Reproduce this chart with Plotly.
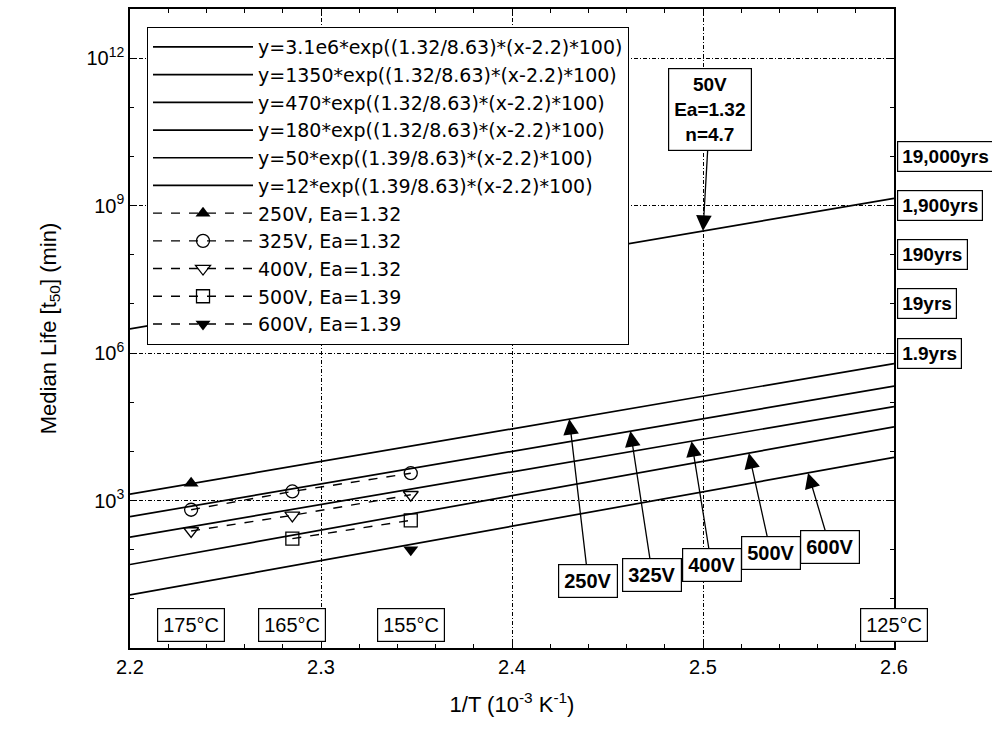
import numpy as np
import plotly.graph_objects as go

# ---- fitted Arrhenius lines (from legend equations) ----
fit_prefactors = [3.1e6, 1350, 470, 180, 50, 12]
fit_ea = [1.32, 1.32, 1.32, 1.32, 1.39, 1.39]
fit_labels = [
    "y=3.1e6*exp((1.32/8.63)*(x-2.2)*100)",
    "y=1350*exp((1.32/8.63)*(x-2.2)*100)",
    "y=470*exp((1.32/8.63)*(x-2.2)*100)",
    "y=180*exp((1.32/8.63)*(x-2.2)*100)",
    "y=50*exp((1.39/8.63)*(x-2.2)*100)",
    "y=12*exp((1.39/8.63)*(x-2.2)*100)",
]
x_ends = [2.2, 2.6]

# ---- measured median lives ----
series_names = ["250V, Ea=1.32", "325V, Ea=1.32", "400V, Ea=1.32", "500V, Ea=1.39", "600V, Ea=1.39"]
x_250 = [2.232]
y_250 = [2250]
x_325 = [2.232, 2.285, 2.347]
y_325 = [650, 1530, 3600]
x_400 = [2.232, 2.285, 2.347]
y_400 = [240, 500, 1310]
x_500 = [2.285, 2.347]
y_500 = [168, 395]
x_600 = [2.347]
y_600 = [100]

# ---- annotation content ----
year_labels = ["19,000yrs", "1,900yrs", "190yrs", "19yrs", "1.9yrs"]
year_minutes = [1e10, 1e9, 1e8, 1e7, 1e6]
temp_labels = ["175°C", "165°C", "155°C", "125°C"]
temp_x = [2.232, 2.285, 2.347, 2.6]
volt_labels = ["250V", "325V", "400V", "500V", "600V"]
volt_arrow_x = [2.43, 2.462, 2.494, 2.524, 2.555]
volt_fit_index = [1, 2, 3, 4, 5]
x_ticks = [2.2, 2.3, 2.4, 2.5, 2.6]
y_ticks = [1e3, 1e6, 1e9, 1e12]
y_ticktext = ["10<sup>3</sup>", "10<sup>6</sup>", "10<sup>9</sup>", "10<sup>12</sup>"]


def fit(i, x):
    return fit_prefactors[i] * np.exp((fit_ea[i] / 8.63) * (np.asarray(x) - 2.2) * 100)


FONT = "Liberation Sans, Arial, sans-serif"
LEGFONT = "DejaVu Sans, Liberation Sans, sans-serif"
fig = go.Figure()

for i, lab in enumerate(fit_labels):
    fig.add_trace(go.Scatter(
        x=x_ends, y=fit(i, x_ends), mode="lines", name=lab,
        line=dict(color="black", width=1.7), legendgroup=f"g{i}"))

marker_styles = [
    dict(symbol="triangle-up", color="black", size=13),
    dict(symbol="circle-open", color="black", size=13, line=dict(width=1.3)),
    dict(symbol="triangle-down-open", color="black", size=13, line=dict(width=1.3)),
    dict(symbol="square-open", color="black", size=13, line=dict(width=1.3)),
    dict(symbol="triangle-down", color="black", size=13),
]
series_x = [x_250, x_325, x_400, x_500, x_600]
series_y = [y_250, y_325, y_400, y_500, y_600]
for k, name in enumerate(series_names):
    fig.add_trace(go.Scatter(
        x=series_x[k], y=series_y[k], mode="lines+markers", name=name,
        line=dict(color="black", width=1.4, dash="dash"),
        marker=marker_styles[k], legendgroup=f"s{k}"))

ann = []
box = dict(bordercolor="black", borderwidth=1.2, bgcolor="white", showarrow=False)

for lab, ym in zip(year_labels, year_minutes):
    ann.append(dict(text=f"<b>{lab}</b>", xref="paper", x=1.0, xanchor="left", xshift=3,
                    yref="y", y=np.log10(ym), yanchor="middle", borderpad=4,
                    font=dict(size=19, family=FONT, color="black"), **box))

for lab, tx in zip(temp_labels, temp_x):
    ann.append(dict(text=lab, xref="x", x=tx, xanchor="center", yref="paper", y=0.036,
                    yanchor="middle", borderpad=5,
                    font=dict(size=20, family=FONT, color="black"), **box))

ARROW = dict(showarrow=True, arrowhead=2, arrowsize=2.4, arrowwidth=1.3, arrowcolor="black",
             bordercolor="black", borderwidth=1.2, bgcolor="white")
volt_offsets = [(19, 162), (22, 144), (20, 124), (22, 100), (22, 74)]
for lab, vx, fi, (oax, oay) in zip(volt_labels, volt_arrow_x, volt_fit_index, volt_offsets):
    ann.append(dict(text=f"<b>{lab}</b>", x=vx, y=float(np.log10(fit(fi, vx))),
                    xref="x", yref="y", ax=oax, ay=oay, borderpad=5,
                    font=dict(size=20, family=FONT, color="black"), **ARROW))

ann.append(dict(text="<b>50V<br>Ea=1.32<br>n=4.7</b>", x=2.5, y=float(np.log10(fit(0, 2.5))),
                xref="x", yref="y", ax=7, ay=-121, borderpad=5, align="center",
                font=dict(size=19, family=FONT, color="black"), **ARROW))

fig.update_layout(
    width=992, height=740,
    margin=dict(l=130, r=98, t=7, b=92),
    paper_bgcolor="white", plot_bgcolor="white",
    font=dict(family=FONT, color="black", size=18),
    showlegend=True,
    legend=dict(x=0.022, y=0.972, xanchor="left", yanchor="top",
                bgcolor="white", bordercolor="black", borderwidth=1.2,
                font=dict(size=19, family=LEGFONT, color="black"),
                itemwidth=100, tracegroupgap=0, traceorder="normal"),
    annotations=ann,
)

fig.update_xaxes(
    range=[2.2, 2.6], tickvals=x_ticks, ticktext=[f"{v:.1f}" for v in x_ticks],
    showline=True, linecolor="black", linewidth=1.5, mirror="ticks",
    ticks="inside", ticklen=7, tickcolor="black", tickwidth=1,
    minor=dict(dtick=0.02, ticks="inside", ticklen=4, tickcolor="black", showgrid=False),
    showgrid=True, gridcolor="black", gridwidth=1, griddash="4px,2px,1px,2px",
    zeroline=False, tickfont=dict(size=20, family=FONT),
    title=dict(text="1/T (10<sup>-3</sup> K<sup>-1</sup>)", font=dict(size=22, family=FONT), standoff=20),
)
fig.update_yaxes(
    type="log", range=[0, 13], tickvals=y_ticks, ticktext=y_ticktext,
    showline=True, linecolor="black", linewidth=1.5, mirror="ticks",
    ticks="inside", ticklen=7, tickcolor="black", tickwidth=1,
    minor=dict(tickvals=[10 ** k for k in range(0, 14)], ticks="inside", ticklen=4,
               tickcolor="black", showgrid=False),
    showgrid=True, gridcolor="black", gridwidth=1, griddash="4px,2px,1px,2px",
    zeroline=False, tickfont=dict(size=20, family=FONT),
    title=dict(text="Median Life [t<sub>50</sub>] (min)", font=dict(size=22, family=FONT), standoff=24),
)

fig.write_html("out.html", config={"displayModeBar": False},
               post_script="document.body.style.margin='0px';")
